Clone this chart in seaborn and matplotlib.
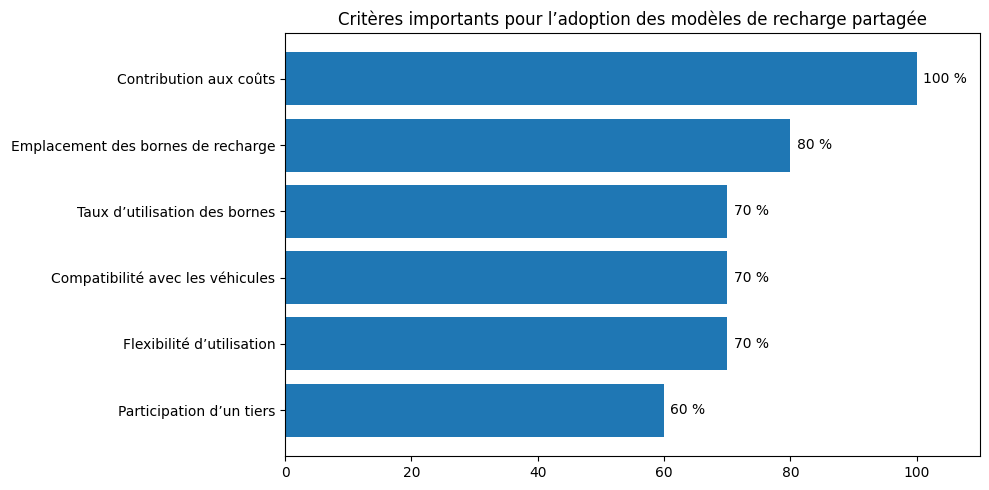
import matplotlib
matplotlib.use("Agg")
import matplotlib.pyplot as plt
import seaborn as sns
import pandas as pd

# ========== Data ==========
criteres = [
    "Contribution aux coûts",
    "Emplacement des bornes de recharge",
    "Taux d’utilisation des bornes",
    "Compatibilité avec les véhicules",
    "Flexibilité d’utilisation",
    "Participation d’un tiers",
]
pourcentages = [100, 80, 70, 70, 70, 60]

df = pd.DataFrame({"critere": criteres, "pct": pourcentages})

# ========== Plot ==========
fig, ax = plt.subplots(figsize=(9.89, 4.9), dpi=100)
sns.barplot(data=df, x="pct", y="critere", orient="h", color="#1f77b4",
            saturation=1, width=0.8, ax=ax)

for i, v in enumerate(df["pct"]):
    ax.text(v + 1, i, f"{v} %", va="center", ha="left", fontsize=10)

# matplotlib-style vertical margins (5 %) instead of seaborn's tight limits
n = len(criteres)
pad = 0.05 * (n - 1 + 0.8)
ax.set_ylim(n - 1 + 0.4 + pad, -0.4 - pad)
ax.set_xlim(0, 110)
ax.set_title("Critères importants pour l’adoption des modèles de recharge partagée")
ax.set_xlabel("")
ax.set_ylabel("")
fig.subplots_adjust(left=285 / 989, right=980 / 989, top=1 - 33 / 490, bottom=1 - 456 / 490)
plt.savefig("out.png", dpi=100)
